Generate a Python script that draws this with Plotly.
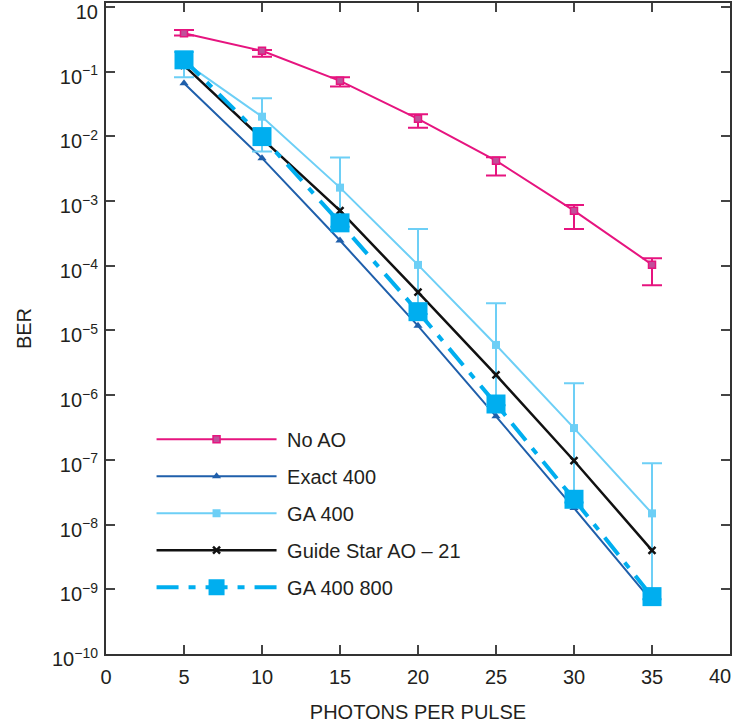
import plotly.graph_objects as go

photons = [5, 10, 15, 20, 25, 30, 35]

no_ao = [0.39, 0.21, 0.072, 0.0186, 0.0042, 7.1e-4, 1.04e-4]
no_ao_hi = [0.44, 0.216, 0.082, 0.022, 0.00475, 8.7e-4, 1.31e-4]
no_ao_lo = [0.36, 0.17, 0.059, 0.0136, 0.00247, 3.7e-4, 5.0e-5]

exact_400 = [0.066, 0.0046, 2.45e-4, 1.18e-5, 4.7e-7, 1.8e-8, 6.5e-10]

ga_400 = [0.141, 0.0201, 0.00161, 1.03e-4, 5.97e-6, 3.1e-7, 1.49e-8]
ga_400_hi = [0.2, 0.0388, 0.00469, 3.7e-4, 2.63e-5, 1.53e-6, 8.9e-8]
ga_400_lo = [0.082, 0.0058, 4.0e-4, 1.8e-5, 7.0e-7, 2.2e-8, 7.0e-10]

guide_star = [0.125, 0.0092, 7.1e-4, 3.9e-5, 2.05e-6, 9.7e-8, 4.0e-9]

ga_400_800 = [0.152, 0.0099, 4.6e-4, 1.95e-5, 7.3e-7, 2.46e-8, 7.7e-10]

y_tickvals = [1, 1e-1, 1e-2, 1e-3, 1e-4, 1e-5, 1e-6, 1e-7, 1e-8, 1e-9, 1e-10]
y_ticktext = ["10"] + ["10<sup>\u2212%d</sup>" % k for k in range(1, 11)]
x_tickvals = [0, 5, 10, 15, 20, 25, 30, 35, 40]
x_ticktext = ["0", "5", "10", "15", "20", "25", "30", "35", ""]
x_last_label = "40"

MAGENTA = "#e6147f"
LIGHT = "#6dcff6"
EXACT = "#1f5fab"
CYAN = "#00aeef"
FONT = "Liberation Sans, Arial, sans-serif"
TXT = "#231f20"
PAD = "\u00a0"

fig = go.Figure()

fig.add_trace(go.Scatter(
    x=photons, y=no_ao, name=PAD + "No AO", mode="lines+markers", legendgroup="a",
    line=dict(color=MAGENTA, width=2),
    marker=dict(symbol="square", size=7, color="#c0509a", line=dict(color=MAGENTA, width=1.5)),
    error_y=dict(type="data", symmetric=False,
                 array=[h - v for h, v in zip(no_ao_hi, no_ao)],
                 arrayminus=[v - l for v, l in zip(no_ao, no_ao_lo)],
                 color=MAGENTA, thickness=2, width=10),
))

fig.add_trace(go.Scatter(
    x=photons, y=exact_400, name=PAD + "Exact 400", mode="lines+markers", legendgroup="b",
    line=dict(color=EXACT, width=2),
    marker=dict(symbol="triangle-up", size=8, color=EXACT),
))

fig.add_trace(go.Scatter(
    x=photons, y=ga_400, name=PAD + "GA 400", mode="lines+markers", legendgroup="c",
    line=dict(color=LIGHT, width=2),
    marker=dict(symbol="square", size=8, color=LIGHT),
    error_y=dict(type="data", symmetric=False,
                 array=[h - v for h, v in zip(ga_400_hi, ga_400)],
                 arrayminus=[v - l for v, l in zip(ga_400, ga_400_lo)],
                 color=LIGHT, thickness=2, width=10),
))

fig.add_trace(go.Scatter(
    x=photons, y=guide_star, name=PAD + "Guide Star AO \u2013 21", mode="lines+markers", legendgroup="d",
    line=dict(color="#111111", width=2.5),
    marker=dict(symbol="x-thin", size=7, color="#111111", line=dict(color="#111111", width=2.5)),
))

fig.add_trace(go.Scatter(
    x=photons, y=ga_400_800, name=PAD + "GA 400 800", mode="lines+markers", legendgroup="e",
    line=dict(color=CYAN, width=4, dash="22px,10px,7px,10px"),
    marker=dict(symbol="square", size=19, color=CYAN),
))

axis_common = dict(
    showline=True, linecolor="#333333", linewidth=2, mirror="ticks",
    ticks="inside", ticklen=9, tickwidth=1.5, tickcolor="#444444",
    showgrid=False, zeroline=False, ticklabeloverflow="allow", automargin=False,
    tickfont=dict(family=FONT, size=20, color=TXT),
)

fig.update_xaxes(
    range=[0, 40], tickvals=x_tickvals, ticktext=x_ticktext, ticklabelstandoff=4,
    title=dict(text="PHOTONS PER PULSE", standoff=18,
               font=dict(family=FONT, size=20, color=TXT)),
    **axis_common,
)
fig.update_yaxes(
    type="log", range=[-10, 0.06], tickvals=y_tickvals, ticktext=y_ticktext,
    ticklabelshift=5, ticklabelstandoff=2,
    title=dict(text="BER", standoff=15,
               font=dict(family=FONT, size=20, color=TXT)),
    **axis_common,
)

# last x tick label kept inside the page (right-aligned to its tick)
fig.add_annotation(
    x=x_tickvals[-1], xref="x", y=0, yref="paper", yanchor="top", xanchor="right",
    text=x_last_label, showarrow=False, xshift=3, yshift=-9,
    font=dict(family=FONT, size=20, color=TXT),
)

fig.update_layout(
    width=737, height=727,
    margin=dict(l=106, r=7, t=3, b=73),
    paper_bgcolor="white", plot_bgcolor="white",
    showlegend=True,
    legend=dict(
        x=0.073, y=0.36, xanchor="left", yanchor="top",
        bgcolor="rgba(0,0,0,0)", borderwidth=0,
        font=dict(family=FONT, size=20, color=TXT),
        itemwidth=120, tracegroupgap=8, traceorder="grouped",
    ),
)

fig.write_html("out.html")
